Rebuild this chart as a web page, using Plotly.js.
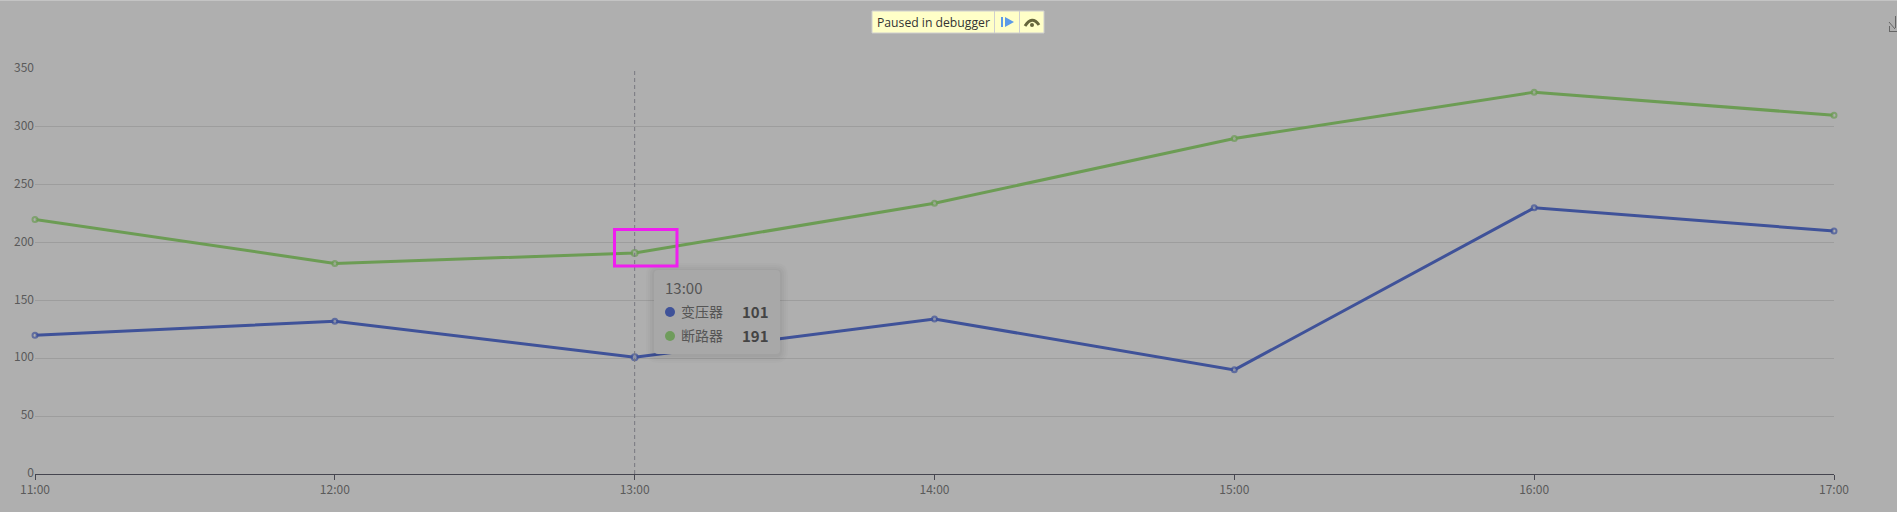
<!DOCTYPE html>
<html>
<head>
<meta charset="utf-8">
<script src="https://cdn.plot.ly/plotly-3.0.1.min.js"></script>
<style>html,body{margin:0;padding:0;background:#afafaf;overflow:hidden}#c{width:1897px;height:512px}</style>
</head>
<body>
<div id="c"></div>
<script>
const categories = ['11:00','12:00','13:00','14:00','15:00','16:00','17:00'];
const transformer = [120,132,101,134,90,230,210];
const breaker = [220,182,191,234,290,330,310];
const seriesNames = ['变压器','断路器'];
const hoverIndex = 2;

const W=1897,H=512;
const m={l:35,r:63,t:69,b:38};
const BG='#afafaf', BLUE='#3f5299', GREEN='#6c9c54';
const FONT='"Noto Sans CJK SC","Open Sans",sans-serif';
const X=p=>(p-m.l)/(W-m.l-m.r);
const Y=p=>1-(p-m.t)/(H-m.t-m.b);
const rectPath=(x0,y0,x1,y1,r)=>`M${X(x0+r)},${Y(y0)}L${X(x1-r)},${Y(y0)}Q${X(x1)},${Y(y0)} ${X(x1)},${Y(y0+r)}L${X(x1)},${Y(y1-r)}Q${X(x1)},${Y(y1)} ${X(x1-r)},${Y(y1)}L${X(x0+r)},${Y(y1)}Q${X(x0)},${Y(y1)} ${X(x0)},${Y(y1-r)}L${X(x0)},${Y(y0+r)}Q${X(x0)},${Y(y0)} ${X(x0+r)},${Y(y0)}Z`;
const pp=(o)=>Object.assign({xref:'paper',yref:'paper',layer:'above'},o);
const box=(x0,y0,x1,y1,fill,line,w)=>pp({type:'rect',x0:X(x0),x1:X(x1),y0:Y(y1),y1:Y(y0),fillcolor:fill||'rgba(0,0,0,0)',line:{color:line||'rgba(0,0,0,0)',width:w||0}});
const seg=(x0,y0,x1,y1,c,w)=>pp({type:'line',x0:X(x0),x1:X(x1),y0:Y(y0),y1:Y(y1),line:{color:c,width:w}});
const dot=(cx,cy,r,c)=>pp({type:'circle',x0:X(cx-r),x1:X(cx+r),y0:Y(cy+r),y1:Y(cy-r),fillcolor:c,line:{width:0}});
const txt=(x,y,t,o)=>Object.assign({xref:'paper',yref:'paper',x:X(x),y:Y(y),text:t,showarrow:false,xanchor:'left',yanchor:'middle',font:{family:FONT,size:12,color:'#555'}},o||{});

const shapes=[];
// crosshair
shapes.push({type:'line',xref:'x',yref:'y',x0:categories[hoverIndex],x1:categories[hoverIndex],y0:0,y1:350,layer:'above',line:{color:'#77777f',width:1,dash:'4px,3px'}});
// tooltip shadow and body
[[8,0.012],[6,0.016],[4,0.02],[2,0.025]].forEach(([s,a])=>shapes.push(pp({type:'path',path:rectPath(654-s,270-s+1,780+s,354+s+1,4+s),fillcolor:`rgba(0,0,0,${a})`,line:{width:0}})));
shapes.push(pp({type:'path',path:rectPath(654,270,780,354,4),fillcolor:'#a8a8a8',line:{width:0}}));
shapes.push(dot(670,312,5,BLUE));
shapes.push(dot(670,336,5,'#6f9c5c'));
// highlight box
shapes.push(box(614.5,229.5,677,266,null,'#f01df0',3));
// debugger banner
shapes.push(box(872,11,1044,33,'#ffffc8','#cfcfcf',1));
shapes.push(seg(994.5,11,994.5,33,'#cfcfcf',1));
shapes.push(seg(1019.5,11,1019.5,33,'#cfcfcf',1));
shapes.push(box(1001,17,1003,27,'#5b9ae8'));
shapes.push(pp({type:'path',path:`M${X(1005)},${Y(17)}L${X(1014)},${Y(22)}L${X(1005)},${Y(27)}Z`,fillcolor:'#5b9ae8',line:{width:0}}));
shapes.push(pp({type:'path',path:`M${X(1025)},${Y(26)}Q${X(1032)},${Y(15)} ${X(1039)},${Y(25)}`,fillcolor:'rgba(0,0,0,0)',line:{color:'#66663c',width:3}}));
shapes.push(dot(1032,25,2,'#66663c'));
// corner toolbox icon
shapes.push(seg(1889,22,1895,29,'#666',1));
shapes.push(seg(1889.5,26,1889.5,32,'#666',1));
shapes.push(seg(1889.5,31.5,1897,31.5,'#666',1));
shapes.push(seg(1895.5,16,1895.5,28,'#666',1));
// top edge of the page
shapes.push(box(0,0,W,1,'#c4c4c4'));

const annotations=[
  txt(663,287,categories[hoverIndex],{font:{family:FONT,size:15,color:'#555'}}),
  txt(679,311,seriesNames[0],{font:{family:FONT,size:14,color:'#555'}}),
  txt(679,335,seriesNames[1],{font:{family:FONT,size:14,color:'#555'}}),
  txt(771,311,String(transformer[hoverIndex]),{xanchor:'right',font:{family:FONT,size:15,color:'#444',weight:700}}),
  txt(771,335,String(breaker[hoverIndex]),{xanchor:'right',font:{family:FONT,size:15,color:'#444',weight:700}}),
  txt(875,22,'Paused in debugger',{font:{family:'"Open Sans",sans-serif',size:12.2,color:'#333'}})
];

const sizes=categories.map((_,i)=>i===hoverIndex?6:5);
const trace=(y,name,c)=>({
  x:categories,y,name,type:'scatter',mode:'lines+markers',cliponaxis:false,
  line:{color:c,width:3},
  marker:{symbol:'circle',size:sizes,color:BG,line:{color:c,width:2}},
  hoverinfo:'skip'
});
const traces=[trace(transformer,seriesNames[0],BLUE),trace(breaker,seriesNames[1],GREEN)];

Plotly.newPlot('c',traces,{
  width:W,height:H,margin:m,paper_bgcolor:BG,plot_bgcolor:BG,showlegend:false,
  font:{family:FONT,size:12,color:'#5a5a5a'},
  xaxis:{type:'category',range:[0,categories.length-1],tickvals:categories,ticktext:categories,showgrid:false,zeroline:false,
    showline:true,linecolor:'#45454f',linewidth:1,ticks:'outside',ticklen:5,tickcolor:'#45454f',tickwidth:1,
    tickfont:{family:FONT,size:12,color:'#5a5a5a'},fixedrange:true},
  yaxis:{range:[0,350],tick0:0,dtick:50,showgrid:true,gridcolor:'#9d9d9d',gridwidth:1,zeroline:false,showline:false,ticks:'',
    ticklabelshift:-1,tickfont:{family:FONT,size:12,color:'#5a5a5a'},fixedrange:true},
  shapes,annotations
},{displayModeBar:false,staticPlot:true});
</script>
</body>
</html>
